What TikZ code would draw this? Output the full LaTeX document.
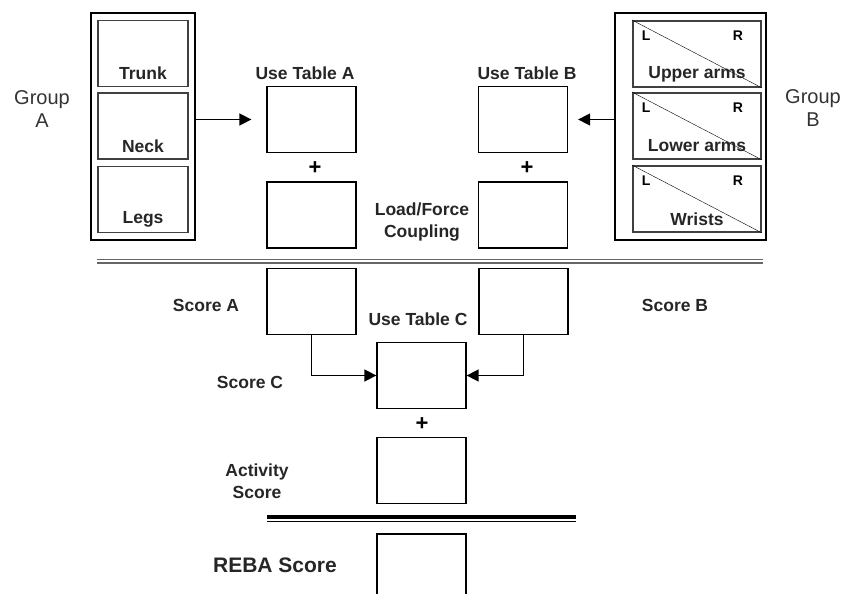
\documentclass[tikz,border=0pt]{standalone}
\usepackage{fontspec}
\setmainfont{Liberation Sans}
\usetikzlibrary{arrows.meta}
\tikzset{
  box/.style={draw, line width=1.3pt, minimum width=89pt, minimum height=66pt, inner sep=0pt},
  part/.style={draw=black!75, line width=1.8pt, inner sep=0pt, minimum height=66pt},
  lbl/.style={font=\fontsize{17.5}{22}\selectfont\bfseries, inner sep=0pt, align=center, text=black!85},
  grp/.style={font=\fontsize{20}{23}\selectfont, inner sep=0pt, align=center, text=black!80},
  side/.style={font=\fontsize{14}{15}\selectfont\bfseries, inner sep=0pt},
  plus/.style={font=\fontsize{22}{22}\selectfont\bfseries, inner sep=0pt},
  arr/.style={-{Triangle[length=12pt,width=12pt]}, line width=1.6pt},
}
\newcommand{\bodypart}[3]{
  \node [part, minimum width=90pt] (#1) at (143,#2) {};
  \node [lbl] at ([yshift=14pt]#1.south) {#3};
}
\newcommand{\armpart}[3]{
  \node [part, minimum width=128pt] (#1) at (697,#2) {};
  \draw (#1.north west) -- (#1.south east);
  \node [side] at ([xshift=14pt,yshift=-16pt]#1.north west) {L};
  \node [side] at ([xshift=-24pt,yshift=-16pt]#1.north east) {R};
  \node [lbl] at ([yshift=14pt]#1.south) {#3};
}

\begin{document}
\begin{tikzpicture}[x=1pt, y=-1pt]
\useasboundingbox (0,0) rectangle (846,594);
\clip (0,0) rectangle (846,594);
% group A
\node [draw, line width=1.5pt, minimum width=104pt, minimum height=227pt] (grpA) at (143,126.5) {};
\bodypart{trunk}{53.5}{Trunk}
\bodypart{neck}{126}{Neck}
\bodypart{legs}{199.5}{Legs}
\node [grp] (grpAlbl) at (42,109) {Group\\A};
% group B
\node [draw, line width=1.5pt, minimum width=151pt, minimum height=227pt] (grpB) at (690.5,126.5) {};
\armpart{upper}{54}{Upper arms}
\armpart{lower}{126}{Lower arms}
\armpart{wrist}{199}{Wrists}
\node [grp] (grpBlbl) at (813,108) {Group\\B};
% tables A and B
\node [box] (tabA) at (311.5,119.5) {};
\node [box] (loadA) at (311.5,215) {};
\node [box] (tabB) at (523,119.5) {};
\node [box] (loadB) at (523,215) {};
\node [lbl] at (305,73) {Use Table A};
\node [lbl] at (527,73) {Use Table B};
\node [plus] at (315,168) {+};
\node [plus] at (527,168) {+};
\node [lbl] at (422,222) {Load/Force\\Coupling};
\draw [arr, shorten >=15pt] (grpA.east |- tabA.west) -- (tabA.west);
\draw [arr, shorten >=10pt] (grpB.west |- tabB.east) -- (tabB.east);
% first divider
\draw [black!60, line width=1.5pt] (97,259.5) -- (763,259.5);
\draw [black!60, line width=1.5pt] (97,263) -- (763,263);
% scores
\node [box] (scoreA) at (311.5,301.5) {};
\node [box] (scoreB) at (523.5,301.5) {};
\node [lbl] at (206,305) {Score A};
\node [lbl] at (675,305) {Score B};
\node [box] (tabC) at (421.5,375.5) {};
\node [lbl] at (418,319) {Use Table C};
\node [lbl] at (250,382) {Score C};
\draw [arr] (scoreA.south) |- (tabC.west);
\draw [arr] (scoreB.south) |- (tabC.east);
\node [plus] at (422,424) {+};
\node [box] (activity) at (421.5,470.5) {};
\node [lbl] at (257,481) {Activity\\Score};
% second divider
\draw [line width=3.8pt] (267,517) -- (576,517);
\draw [line width=1.8pt] (267,521.5) -- (576,521.5);
\node [box] (reba) at (421.5,567) {};
\node [lbl, font=\fontsize{21}{22}\selectfont\bfseries] at (275,565) {REBA Score};
\end{tikzpicture}
\end{document}
